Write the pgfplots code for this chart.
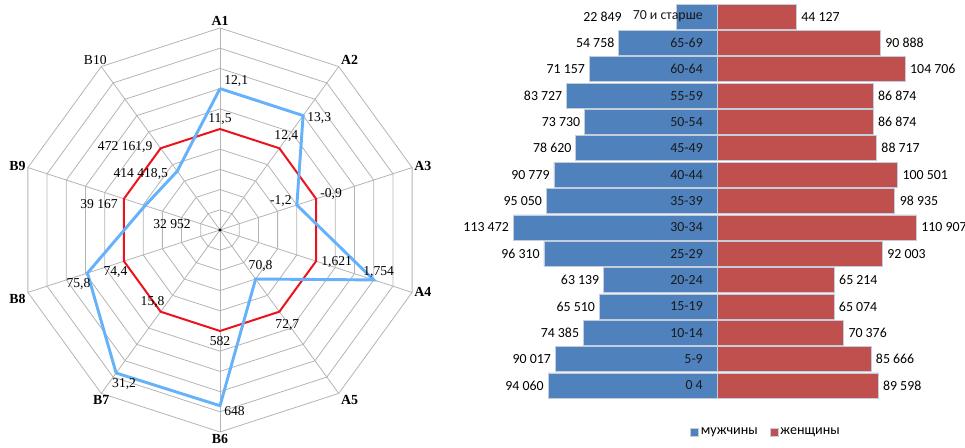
\documentclass[border=0pt]{standalone}
\usepackage{fontspec}
\setmainfont{Carlito}
\newfontfamily\tms{Liberation Serif}
\usepackage{pgfplots}
\pgfplotsset{compat=1.18}
\definecolor{gridc}{RGB}{180,180,180}
\definecolor{radblue}{RGB}{102,178,250}
\definecolor{radred}{RGB}{235,20,30}
\definecolor{male}{RGB}{79,129,189}
\definecolor{female}{RGB}{192,80,77}
\definecolor{barline}{RGB}{195,205,220}
\pgfplotsset{
  radlab/.style={draw=none, mark=none, nodes near coords, point meta=explicit symbolic,
    visualization depends on={value \thisrow{anc}\as\anc},
    visualization depends on={value \thisrow{dx}\as\dx},
    visualization depends on={value \thisrow{dy}\as\dy},
    every node near coord/.append style={anchor=\anc, inner sep=1.5pt, text=black,
      xshift=\dx*0.75pt, yshift=\dy*0.75pt, font=\tms\fontsize{10.2}{12}\selectfont}},
}
\begin{document}
\begin{tikzpicture}
\path[use as bounding box] (0pt,0pt) rectangle (723.75pt,336pt);
% ---------------- radar ----------------
\begin{axis}[at={(13.5pt,12pt)}, anchor=south west, scale only axis, width=303pt, height=303pt,
  xmin=-10, xmax=10, ymin=-10, ymax=10, hide axis, clip=false, data cs=polar]
\pgfplotsinvokeforeach{1,...,10}{
  \addplot[gridc, line width=0.6pt, mark=none] coordinates {(90,#1) (54,#1) (18,#1) (-18,#1) (-54,#1) (-90,#1) (-126,#1) (-162,#1) (162,#1) (126,#1) (90,#1)};
}
\pgfplotsinvokeforeach{90,54,18,-18,-54,-90,-126,-162,162,126}{
  \addplot[gridc, line width=0.6pt, mark=none] coordinates {(#1,0) (#1,10)};
}
\addplot[radred, line width=1.5pt, mark=none] coordinates {(90,5) (54,5) (18,5) (-18,5) (-54,5) (-90,5) (-126,5) (-162,5) (162,5) (126,5) (90,5)};
\addplot[radblue, line width=2.2pt, mark=none] coordinates {(90,7) (54,7) (18,4) (-18,8) (-54,3) (-90,8.7) (-126,8.75) (-162,6.9) (162,3.9) (126,3.6) (90,7)};
\addplot[black, only marks, mark=*, mark size=0.9pt] coordinates {(0,0)};
% blue labels
\addplot[radlab] table[x=a, y=r, meta=lab] {
a r lab anc dx dy
90 7 {12,1} {south west} 2 0
54 7 {13,3} west 2 -2
18 4 {-1,2} east -3 4
-18 8 {1,754} south 5 0
-54 3 {70,8} south 5 5
-90 8.7 {648} {north west} 2 2
-126 8.75 {31,2} north 8 -3
-162 6.9 {75,8} north -9 -3
162 3.9 {32 952} {north west} 6 -12
126 3.6 {414 418,5} east -7 -3
};
% red labels
\addplot[radlab] table[x=a, y=r, meta=lab] {
a r lab anc dx dy
90 5 {11,5} south 0 2
54 5 {12,4} south 7 4
18 5 {-0,9} west 2 5
-18 5 {1,621} west 3 -1
-54 5 {72,7} north 8 -6
-90 5 {582} north 0 -3
-126 5 {15,8} south -8 2
-162 5 {74,4} north -8.5 -3
162 5 {39 167} east -4 -5
126 5 {472 161,9} east -6 1
};
% axis names
\addplot[radlab, every node near coord/.append style={font=\tms\bfseries\fontsize{10.4}{12}\selectfont}] table[x=a, y=r, meta=lab] {
a r lab anc dx dy
90 10 A1 south 0 0
54 10 A2 {south west} 0 0
18 10 A3 west 0 2
-18 10 A4 west 0 0
-54 10 A5 {north west} 0 0
-90 10 B6 north 0 0
-126 10 B7 north 0 0
-162 10 B8 {north east} 0 0
162 10 B9 east 0 2
};
\addplot[radlab] table[x=a, y=r, meta=lab] {
a r lab anc dx dy
126 10 B10 south -6 0
};
\end{axis}
% ---------------- pyramid ----------------
\begin{axis}[at={(376.05pt,36.98pt)}, anchor=south west, scale only axis, width=336.94pt, height=296.5pt,
  xmin=-120000, xmax=130000, ymin=-0.5, ymax=14.5, hide axis, clip=false,
  legend style={at={(0.589,-0.084)}, anchor=center, draw=none, fill=none,
    font=\fontsize{10.6}{12}\selectfont, nodes={inner sep=1.5pt},
    /tikz/every even column/.append style={column sep=7.5pt}},
  legend columns=2,
  legend image code/.code={\draw[#1] (0pt,-3pt) rectangle (6pt,3pt);}]
\addplot[forget plot, xbar, bar width=0.95, bar shift=0pt, fill=male, draw=barline, line width=0.5pt,
  nodes near coords, point meta=explicit symbolic,
  every node near coord/.append style={anchor=east, inner sep=0pt, xshift=-3pt, text=black, font=\fontsize{10.4}{12}\selectfont}]
  coordinates {(-94060,0) [94 060] (-90017,1) [90 017] (-74385,2) [74 385] (-65510,3) [65 510]
  (-63139,4) [63 139] (-96310,5) [96 310] (-113472,6) [113 472] (-95050,7) [95 050]
  (-90779,8) [90 779] (-78620,9) [78 620] (-73730,10) [73 730] (-83727,11) [83 727]
  (-71157,12) [71 157] (-54758,13) [54 758]};
\addplot[forget plot, xbar, bar width=0.95, bar shift=0pt, fill=male, draw=barline, line width=0.5pt,
  nodes near coords, point meta=explicit symbolic,
  every node near coord/.append style={anchor=east, inner sep=0pt, xshift=-40.5pt, text=black, font=\fontsize{10.4}{12}\selectfont}]
  coordinates {(-22849,14) [22 849]};
\addplot[forget plot, xbar, bar width=0.95, bar shift=0pt, fill=female, draw=barline, line width=0.5pt,
  nodes near coords, point meta=explicit symbolic,
  every node near coord/.append style={anchor=west, inner sep=0pt, xshift=3.5pt, text=black, font=\fontsize{10.4}{12}\selectfont}]
  coordinates {(89598,0) [89 598] (85666,1) [85 666] (70376,2) [70 376] (65074,3) [65 074]
  (65214,4) [65 214] (92003,5) [92 003] (110907,6) [110 907] (98935,7) [98 935]
  (100501,8) [100 501] (88717,9) [88 717] (86874,10) [86 874] (86874,11) [86 874]
  (104706,12) [104 706] (90888,13) [90 888] (44127,14) [44 127]};
\addplot[forget plot, draw=none, mark=none, nodes near coords, point meta=explicit symbolic,
  every node near coord/.append style={anchor=east, inner sep=0pt, xshift=-10.5pt, text=black!90, font=\fontsize{10.4}{12}\selectfont}]
  coordinates {(0,0) [0 4] (0,1) [5-9] (0,2) [10-14] (0,3) [15-19] (0,4) [20-24] (0,5) [25-29] (0,6) [30-34] (0,7) [35-39]
  (0,8) [40-44] (0,9) [45-49] (0,10) [50-54] (0,11) [55-59] (0,12) [60-64] (0,13) [65-69] (0,14) [70 и старше]};
\addlegendimage{fill=male, draw=barline, line width=0.5pt}
\addlegendentry{мужчины}
\addlegendimage{fill=female, draw=barline, line width=0.5pt}
\addlegendentry{женщины}
\end{axis}
\end{tikzpicture}
\end{document}
